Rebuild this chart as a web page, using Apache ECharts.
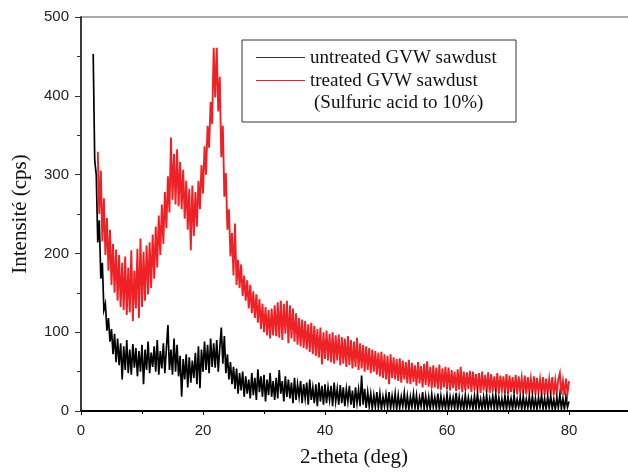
<!DOCTYPE html>
<html>
<head>
<meta charset="utf-8">
<script src="https://cdn.jsdelivr.net/npm/echarts@6/dist/echarts.min.js"></script>
<style>
  html, body { margin: 0; padding: 0; background: #fff; }
  #chart { width: 628px; height: 473px; }
</style>
</head>
<body>
<div id="chart"></div>
<script>
// 2-theta grid: scan step 0.25 deg
var thetaStep = 0.25
var untreatedStart = 2.0
var treatedStart = 2.75

// untreated GVW sawdust (cps)
var untreated = [
  453, 318, 300, 214,
  242, 168, 188, 128,
  136, 102, 118, 88,
  104, 72, 98, 62,
  92, 58, 86, 40,
  82, 52, 90, 48,
  78, 46, 85, 55,
  80, 44, 76, 50,
  84, 34, 78, 52,
  88, 48, 74, 56,
  82, 50, 90, 46,
  76, 54, 86, 48,
  80, 109, 52, 78,
  46, 92, 50, 84,
  44, 70, 18, 66,
  40, 72, 30, 68,
  36, 64, 42, 74,
  34, 82, 29, 78,
  50, 88, 52, 84,
  48, 92, 56, 86,
  55, 90, 50, 80,
  106, 60, 95, 48,
  72, 40, 62, 34,
  56, 28, 54, 22,
  48, 26, 50, 18,
  44, 22, 40, 16,
  48, 20, 42, 14,
  53, 24, 44, 18,
  46, 12, 40, 20,
  48, 18, 38, 14,
  42, 16, 52, 22,
  38, 12, 44, 18,
  40, 16, 36, 10,
  42, 14, 34, 18,
  38, 10, 34, 16,
  36, 8, 40, 14,
  30, 10, 34, 6,
  36, 12, 32, 8,
  34, 10, 30, 14,
  32, 6, 36, 12,
  28, 8, 33, 10,
  30, 6, 28, 12,
  32, 8, 26, 4,
  30, 10, 27, 6,
  45, 8, 28, 4,
  24, 6, 22, 3,
  20, 5, 24, 4,
  22, 2, 18, 6,
  21, 4, 24, 3,
  19, 5, 22, 2,
  20, 4, 18, 6,
  23, 3, 19, 2,
  18, 5, 22, 4,
  20, 2, 17, 6,
  24, 3, 19, 4,
  18, 2, 21, 5,
  17, 3, 22, 2,
  19, 4, 16, 3,
  21, 2, 18, 5,
  17, 3, 23, 2,
  18, 4, 16, 2,
  20, 3, 17, 5,
  16, 2, 19, 3,
  22, 4, 15, 2,
  18, 3, 20, 2,
  16, 5, 19, 3,
  21, 2, 17, 4,
  15, 3, 19, 2,
  18, 4, 16, 2,
  20, 3, 15, 5,
  17, 2, 19, 3,
  15, 4, 18, 2,
  19, 3, 16, 2,
  17, 5, 20, 3,
  16, 2, 18, 4,
  19, 3, 15, 2,
  17, 4, 21, 3,
  16, 2, 18, 5,
  12
]

// treated GVW sawdust, sulfuric acid 10% (cps)
var treated = [
  329,
  250, 305, 215, 270,
  198, 245, 178, 230,
  160, 212, 150, 205,
  140, 198, 132, 188,
  128, 196, 122, 182,
  125, 204, 114, 178,
  130, 206, 118, 219,
  132, 202, 140, 210,
  148, 214, 156, 224,
  168, 234, 182, 248,
  198, 262, 212, 278,
  232, 298, 252, 347,
  268, 326, 262, 332,
  260, 316, 256, 306,
  244, 292, 230, 282,
  204, 286, 222, 278,
  234, 292, 256, 312,
  276, 336, 300, 362,
  334, 392, 364, 461,
  398, 461, 380, 424,
  322, 362, 272, 302,
  230, 256, 196, 226,
  172, 238, 160, 192,
  156, 186, 146, 172,
  140, 166, 130, 160,
  124, 152, 118, 148,
  112, 142, 104, 136,
  100, 132, 96, 128,
  92, 130, 96, 134,
  95, 138, 93, 140,
  90, 136, 98, 140,
  86, 134, 92, 130,
  88, 124, 84, 118,
  82, 116, 80, 114,
  78, 110, 75, 112,
  72, 108, 70, 104,
  68, 106, 59, 100,
  66, 102, 64, 98,
  62, 100, 60, 96,
  64, 97, 58, 94,
  60, 92, 56, 95,
  58, 90, 54, 88,
  56, 93, 52, 86,
  54, 84, 50, 82,
  52, 80, 48, 78,
  50, 76, 46, 74,
  44, 75, 42, 72,
  40, 70, 34, 72,
  42, 68, 40, 66,
  38, 67, 36, 64,
  40, 62, 35, 65,
  34, 61, 37, 58,
  32, 62, 35, 57,
  30, 60, 33, 63,
  31, 56, 29, 58,
  30, 55, 28, 59,
  27, 54, 30, 56,
  28, 55, 26, 52,
  29, 50, 25, 53,
  27, 56, 24, 50,
  26, 49, 28, 51,
  24, 50, 26, 47,
  25, 48, 23, 50,
  26, 46, 24, 49,
  23, 47, 25, 44,
  24, 48, 22, 45,
  26, 44, 23, 47,
  22, 45, 24, 43,
  23, 46, 21, 44,
  24, 42, 22, 45,
  21, 43, 23, 41,
  22, 44, 20, 42,
  23, 40, 21, 43,
  20, 41, 22, 40,
  21, 43, 20, 39,
  22, 40, 48, 21,
  38, 20, 41, 22,
  38
]

var seriesNames = ['untreated GVW sawdust', 'treated GVW sawdust', '(Sulfuric acid to 10%)']
var xTicks = [0, 20, 40, 60, 80]
var yTicks = [0, 100, 200, 300, 400, 500]

function toPairs(start, values) {
  var out = []
  for (var i = 0; i < values.length; i++) {
    out.push([+(start + i * thetaStep).toFixed(2), values[i]])
  }
  return out
}

var chart = echarts.init(document.getElementById('chart'))
var serif = 'Liberation Serif, Times New Roman, serif'
var sans = 'Liberation Sans, Arial, sans-serif'

chart.setOption({
  animation: false,
  backgroundColor: '#fff',
  grid: {
    left: 81,
    top: 17,
    right: -63,
    bottom: 62,
    containLabel: false,
    outerBoundsMode: 'none',
    show: true,
    borderColor: '#555',
    borderWidth: 1
  },
  xAxis: {
    type: 'value',
    min: xTicks[0],
    max: 100,
    interval: 20,
    name: '2-theta (deg)',
    nameLocation: 'middle',
    nameGap: 36,
    nameTextStyle: {
      fontFamily: serif,
      fontSize: 21,
      color: '#111',
      padding: [0, 64, 0, 0]
    },
    axisLine: { lineStyle: { color: '#000', width: 2 } },
    axisTick: { inside: false, length: 4, lineStyle: { color: '#000' } },
    minorTick: { show: true, splitNumber: 2, length: 3, lineStyle: { color: '#000' } },
    splitLine: { show: false },
    axisLabel: {
      fontFamily: sans,
      fontSize: 15,
      color: '#222',
      margin: 12,
      formatter: function (v) {
        return xTicks.indexOf(v) >= 0 ? String(v) : ''
      }
    }
  },
  yAxis: {
    type: 'value',
    min: yTicks[0],
    max: yTicks[yTicks.length - 1],
    interval: 100,
    name: 'Intensité (cps)',
    nameLocation: 'middle',
    nameGap: 50,
    nameTextStyle: {
      fontFamily: serif,
      fontSize: 21,
      color: '#111'
    },
    axisLine: { lineStyle: { color: '#3a3a3a', width: 2 } },
    axisTick: { inside: false, length: 6, lineStyle: { color: '#333' } },
    minorTick: { show: true, splitNumber: 2, length: 4, lineStyle: { color: '#333' } },
    splitLine: { show: false },
    axisLabel: {
      fontFamily: sans,
      fontSize: 15,
      color: '#222',
      margin: 12
    }
  },
  series: [
    {
      name: seriesNames[1],
      type: 'line',
      showSymbol: false,
      data: toPairs(treatedStart, treated),
      lineStyle: { color: '#ee2226', width: 1.9, join: 'miter' },
      itemStyle: { color: '#ee2226' }
    },
    {
      name: seriesNames[0],
      type: 'line',
      showSymbol: false,
      data: toPairs(untreatedStart, untreated),
      lineStyle: { color: '#000', width: 1.7, join: 'miter' },
      itemStyle: { color: '#000' }
    }
  ],
  // legend box drawn like the original plot frame
  graphic: [
    {
      type: 'rect',
      shape: { x: 242, y: 40, width: 274, height: 82 },
      style: { fill: '#fff', stroke: '#333', lineWidth: 1 },
      z: 10
    },
    {
      type: 'line',
      shape: { x1: 256, y1: 57.5, x2: 305, y2: 57.5 },
      style: { stroke: '#333', lineWidth: 1.2 },
      z: 11
    },
    {
      type: 'line',
      shape: { x1: 256, y1: 80.5, x2: 305, y2: 80.5 },
      style: { stroke: '#ee2226', lineWidth: 1 },
      z: 11
    },
    {
      type: 'text',
      x: 310,
      y: 58,
      style: { text: seriesNames[0], font: '19px ' + serif, fill: '#111', verticalAlign: 'middle' },
      z: 11
    },
    {
      type: 'text',
      x: 310,
      y: 81,
      style: { text: seriesNames[1], font: '19px ' + serif, fill: '#111', verticalAlign: 'middle' },
      z: 11
    },
    {
      type: 'text',
      x: 314,
      y: 103,
      style: { text: seriesNames[2], font: '19px ' + serif, fill: '#111', verticalAlign: 'middle' },
      z: 11
    }
  ]
})
</script>
</body>
</html>
